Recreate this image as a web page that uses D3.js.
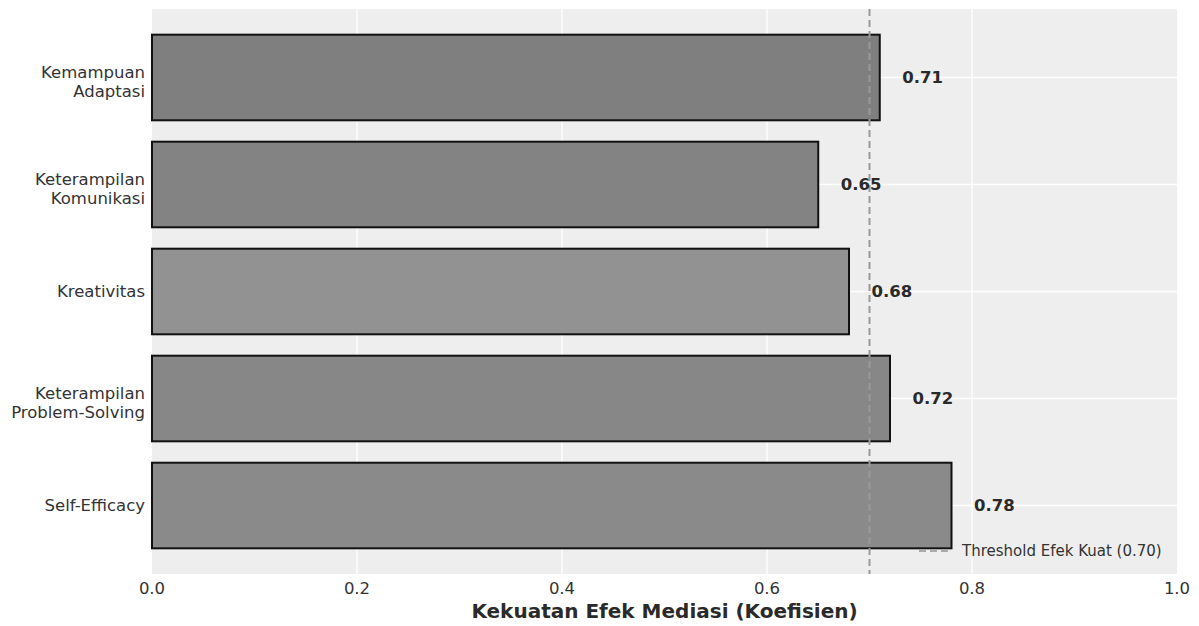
<!DOCTYPE html>
<html>
<head>
<meta charset="utf-8">
<script src="https://cdn.jsdelivr.net/npm/d3@7"></script>
<style>
  body { margin: 0; background: #fff; }
</style>
</head>
<body>
<div id="chart"></div>
<script>
// data
const categories = [
  ["Kemampuan", "Adaptasi"],
  ["Keterampilan", "Komunikasi"],
  ["Kreativitas"],
  ["Keterampilan", "Problem-Solving"],
  ["Self-Efficacy"]
];
const values = [0.71, 0.65, 0.68, 0.72, 0.78];
const barColors = ["#7f7f7f", "#838383", "#929292", "#878787", "#8a8a8a"];
const xTicks = [0.0, 0.2, 0.4, 0.6, 0.8, 1.0];
const threshold = 0.70;

const FONT = "'DejaVu Sans'";
let width = 1199, height = 626;
let margin = { left: 152, right: 22, top: 9, bottom: 52 };

let svg = d3.select('#chart').append('svg')
  .attr('width', width)
  .attr('height', height);

let x = d3.scaleLinear().domain([0, 1]).range([margin.left, width - margin.right]);
let y = d3.scaleLinear().domain([-0.64, 4.64]).range([margin.top, height - margin.bottom]);

// plot background
svg.append('rect')
  .attr('x', x(0)).attr('y', y(-0.64))
  .attr('width', x(1) - x(0)).attr('height', y(4.64) - y(-0.64))
  .attr('fill', '#eeeeee');

// grid
svg.append('g').selectAll('line').data(xTicks.slice(1, -1)).enter().append('line')
  .attr('x1', d => x(d)).attr('x2', d => x(d))
  .attr('y1', y(-0.64)).attr('y2', y(4.64))
  .attr('stroke', '#fff').attr('stroke-width', 1.3);
svg.append('g').selectAll('line').data(values).enter().append('line')
  .attr('x1', x(0)).attr('x2', x(1))
  .attr('y1', (d, i) => y(i)).attr('y2', (d, i) => y(i))
  .attr('stroke', '#fff').attr('stroke-width', 1.3);

// bars
svg.append('g').selectAll('rect').data(values).enter().append('rect')
  .attr('x', x(0))
  .attr('y', (d, i) => y(i - 0.4))
  .attr('width', d => x(d) - x(0))
  .attr('height', y(0.4) - y(-0.4))
  .attr('fill', (d, i) => barColors[i])
  .attr('stroke', '#111')
  .attr('stroke-width', 2);

// threshold
svg.append('line')
  .attr('x1', x(threshold)).attr('x2', x(threshold))
  .attr('y1', y(-0.64)).attr('y2', y(4.64))
  .attr('stroke', '#999').attr('stroke-width', 2)
  .attr('stroke-dasharray', '7,4');

// value labels
svg.append('g').selectAll('text').data(values).enter().append('text')
  .attr('x', d => x(d + 0.02) + 2)
  .attr('y', (d, i) => y(i))
  .attr('dy', '0.35em')
  .style('font-family', FONT)
  .attr('font-size', 16.5)
  .attr('font-weight', 'bold')
  .attr('fill', '#2a2a2a')
  .text(d => d.toFixed(2));

// y labels
let yl = svg.append('g').selectAll('text').data(categories).enter().append('text')
  .attr('text-anchor', 'end')
  .style('font-family', FONT)
  .attr('font-size', 16.5)
  .attr('fill', '#333');
yl.each(function (lines, i) {
  let t = d3.select(this);
  let n = lines.length;
  lines.forEach((s, k) => {
    t.append('tspan')
      .attr('x', x(0) - 7)
      .attr('y', y(i) + (k - (n - 1) / 2) * 19.5 + (n > 1 ? 4 : 0))
      .attr('dy', '0.35em')
      .text(s);
  });
});

// x tick labels
svg.append('g').selectAll('text').data(xTicks).enter().append('text')
  .attr('x', d => x(d))
  .attr('y', 594)
  .attr('text-anchor', 'middle')
  .style('font-family', FONT)
  .attr('font-size', 16.5)
  .attr('fill', '#333')
  .text(d => d.toFixed(1));

// x title
svg.append('text')
  .attr('x', (x(0) + x(1)) / 2)
  .attr('y', 618)
  .attr('text-anchor', 'middle')
  .style('font-family', FONT)
  .attr('font-size', 20)
  .attr('font-weight', 'bold')
  .attr('fill', '#2a2a2a')
  .text('Kekuatan Efek Mediasi (Koefisien)');

// legend
svg.append('line')
  .attr('x1', 919).attr('x2', 949)
  .attr('y1', 551).attr('y2', 551)
  .attr('stroke', '#aaa').attr('stroke-width', 2)
  .attr('stroke-dasharray', '7,4');
svg.append('text')
  .attr('x', 962).attr('y', 551)
  .attr('dy', '0.35em')
  .style('font-family', FONT)
  .attr('font-size', 15)
  .attr('fill', '#333')
  .text('Threshold Efek Kuat (0.70)');
</script>
</body>
</html>
